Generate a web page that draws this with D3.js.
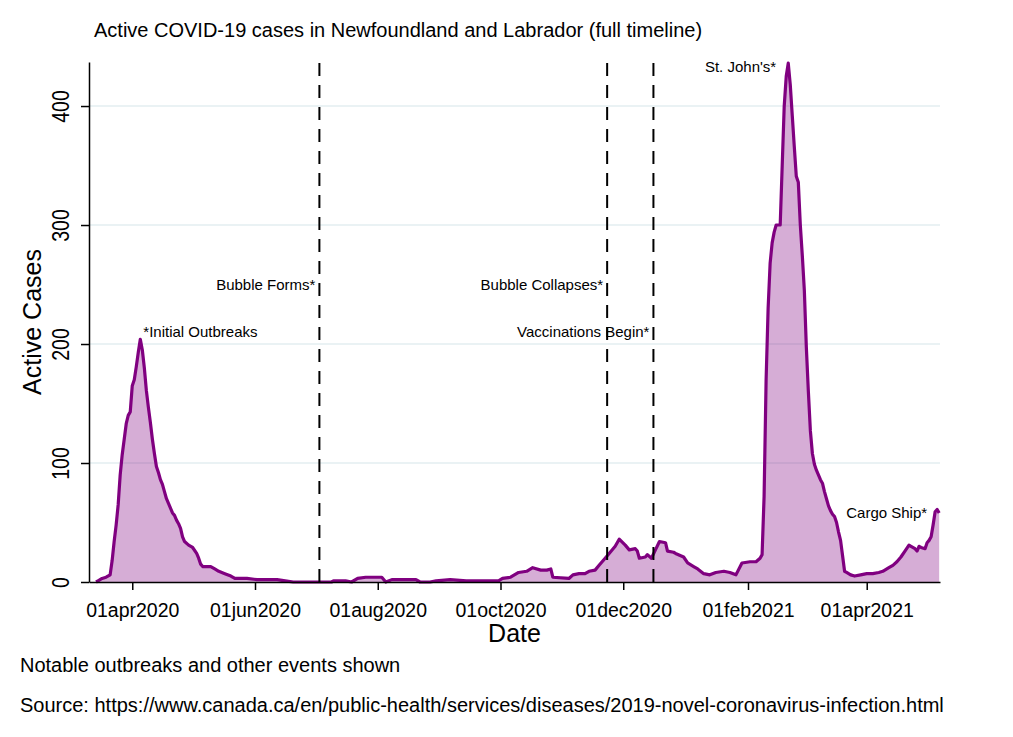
<!DOCTYPE html>
<html>
<head>
<meta charset="utf-8">
<script src="https://cdn.jsdelivr.net/npm/d3@7"></script>
<style>
  body { margin: 0; background: #fff; }
  text { font-family: "Liberation Sans", Arial, sans-serif; fill: #000; }
</style>
</head>
<body>
<svg id="chart" width="1013" height="737"></svg>
<script>
// ---------------- data ----------------
const dates = [
  "2020-03-14","2020-03-15","2020-03-17","2020-03-19","2020-03-21","2020-03-22","2020-03-23","2020-03-24",
  "2020-03-25","2020-03-26","2020-03-27","2020-03-28","2020-03-29","2020-03-30","2020-03-31","2020-04-01",
  "2020-04-02","2020-04-03","2020-04-04","2020-04-05","2020-04-06","2020-04-07","2020-04-08","2020-04-09",
  "2020-04-10","2020-04-11","2020-04-12","2020-04-13","2020-04-14","2020-04-15","2020-04-16","2020-04-17",
  "2020-04-18","2020-04-19","2020-04-20","2020-04-21","2020-04-22","2020-04-23","2020-04-24","2020-04-25",
  "2020-04-26","2020-04-27","2020-04-29","2020-05-01","2020-05-03","2020-05-04","2020-05-05","2020-05-06",
  "2020-05-10","2020-05-12","2020-05-14","2020-05-17","2020-05-20","2020-05-22","2020-05-28","2020-06-02",
  "2020-06-12","2020-06-16","2020-06-20","2020-07-09","2020-07-10","2020-07-16","2020-07-19","2020-07-22",
  "2020-07-26","2020-08-03","2020-08-05","2020-08-08","2020-08-20","2020-08-22","2020-08-27","2020-08-30",
  "2020-09-06","2020-09-14","2020-09-30","2020-10-02","2020-10-06","2020-10-10","2020-10-14","2020-10-17",
  "2020-10-21","2020-10-24","2020-10-26","2020-10-27","2020-11-04","2020-11-06","2020-11-09","2020-11-12",
  "2020-11-14","2020-11-17","2020-11-19","2020-11-22","2020-11-24","2020-11-27","2020-11-29","2020-12-02",
  "2020-12-04","2020-12-07","2020-12-08","2020-12-09","2020-12-12","2020-12-13","2020-12-15","2020-12-17",
  "2020-12-19","2020-12-22","2020-12-23","2020-12-26","2020-12-27","2020-12-31","2021-01-02","2021-01-05",
  "2021-01-07","2021-01-10","2021-01-13","2021-01-16","2021-01-20","2021-01-23","2021-01-26","2021-01-29",
  "2021-02-02","2021-02-05","2021-02-07","2021-02-08","2021-02-09","2021-02-10","2021-02-11","2021-02-12",
  "2021-02-13","2021-02-14","2021-02-15","2021-02-17","2021-02-18","2021-02-19","2021-02-20","2021-02-21",
  "2021-02-22","2021-02-23","2021-02-24","2021-02-25","2021-02-26","2021-02-27","2021-02-28","2021-03-01",
  "2021-03-02","2021-03-03","2021-03-04","2021-03-05","2021-03-06","2021-03-07","2021-03-08","2021-03-09",
  "2021-03-10","2021-03-11","2021-03-12","2021-03-13","2021-03-14","2021-03-15","2021-03-16","2021-03-17",
  "2021-03-18","2021-03-19","2021-03-20","2021-03-21","2021-03-22","2021-03-24","2021-03-26","2021-03-29",
  "2021-04-01","2021-04-04","2021-04-07","2021-04-09","2021-04-12","2021-04-14","2021-04-16","2021-04-18",
  "2021-04-20","2021-04-22","2021-04-23","2021-04-25","2021-04-26","2021-04-27","2021-04-28","2021-04-30",
  "2021-05-01","2021-05-02","2021-05-03","2021-05-04","2021-05-05","2021-05-06","2021-05-07"
];
const activeCases = [
  0,1,3,4,6,18,34,48,
  65,90,107,120,133,140,143,165,
  170,181,193,204,195,180,161,147,
  134,120,108,97,92,86,82,76,
  70,66,62,58,56,52,49,45,
  38,34,31,29,24,20,15,13,
  13,11,9,7,5,3,3,2,
  2,1,0,0,1,1,0,3,
  4,4,0,2,2,0,0,1,
  2,1,1,3,4,8,9,12,
  10,10,11,4,3,6,7,7,
  9,10,14,20,24,30,36,31,
  27,28,26,20,21,23,20,27,
  34,33,26,25,24,21,16,13,
  11,7,6,8,9,8,6,16,
  17,17,20,23,72,170,230,268,
  285,294,300,300,350,400,425,436,
  418,392,366,341,336,300,274,245,
  197,160,127,108,99,94,90,86,
  83,76,70,64,60,57,55,50,
  42,35,22,9,8,6,5,6,
  7,7,8,9,12,14,17,21,
  26,31,30,28,26,30,29,28,
  33,35,38,48,59,61,58
];

const yTicks = [0, 100, 200, 300, 400];
const xTickDates = ["2020-04-01","2020-06-01","2020-08-01","2020-10-01","2020-12-01","2021-02-01","2021-04-01"];
const xTickLabels = ["01apr2020","01jun2020","01aug2020","01oct2020","01dec2020","01feb2021","01apr2021"];

const eventDates = ["2020-07-03","2020-11-23","2020-12-16"];

const annoText   = ["*Initial Outbreaks","Bubble Forms*","Bubble Collapses*","Vaccinations Begin*","St. John's*","Cargo Ship*"];
const annoDate   = ["2020-04-05","2020-07-03","2020-11-23","2020-12-16","2021-02-17","2021-05-03"];
const annoValue  = [210, 250, 250, 210, 433, 58];
const annoAnchor = ["start","end","end","end","end","end"];

const titleText = "Active COVID-19 cases in Newfoundland and Labrador (full timeline)";
const yTitle = "Active Cases";
const xTitle = "Date";
const note1 = "Notable outbreaks and other events shown";
const note2 = "Source: https://www.canada.ca/en/public-health/services/diseases/2019-novel-coronavirus-infection.html";

// ---------------- drawing ----------------
const parse = s => { const [yy, mm, dd] = s.split("-").map(Number); return new Date(Date.UTC(yy, mm - 1, dd)); };
const series = dates.map((d, i) => ({ date: parse(d), value: activeCases[i] }));

const svg = d3.select("#chart");
const x = d3.scaleUtc()
  .domain([new Date(Date.UTC(2020, 2, 10, 12)), new Date(Date.UTC(2021, 4, 7, 10))])
  .range([89, 940]);
const y = d3.scaleLinear().domain([0, 437]).range([582, 62]);

// gridlines
svg.append("g").selectAll("line")
  .data(yTicks.filter(t => t > 0))
  .join("line")
  .attr("x1", x.range()[0]).attr("x2", x.range()[1])
  .attr("y1", d => y(d)).attr("y2", d => y(d))
  .attr("stroke", "#e3eef0").attr("stroke-width", 1.5);

// area + line
const area = d3.area().x(d => x(d.date)).y0(y(0)).y1(d => y(d.value));
const line = d3.line().x(d => x(d.date)).y(d => y(d.value));
svg.append("path").datum(series).attr("d", area)
  .attr("fill", "#800080").attr("fill-opacity", 0.32);
svg.append("path").datum(series).attr("d", line)
  .attr("fill", "none").attr("stroke", "#800080").attr("stroke-width", 3.2)
  .attr("stroke-linejoin", "round");

// event lines
svg.append("g").selectAll("line")
  .data(eventDates)
  .join("line")
  .attr("x1", d => x(parse(d))).attr("x2", d => x(parse(d)))
  .attr("y1", y(0)).attr("y2", y(437))
  .attr("stroke", "#000").attr("stroke-width", 2)
  .attr("stroke-dasharray", "13,9");

// annotations
svg.append("g").selectAll("text")
  .data(annoText)
  .join("text")
  .attr("x", (d, i) => x(parse(annoDate[i])) + (annoAnchor[i] === "start" ? 3 : -4))
  .attr("y", (d, i) => y(annoValue[i]))
  .attr("dy", "0.35em")
  .attr("text-anchor", (d, i) => annoAnchor[i])
  .style("font-size", "15px")
  .text(d => d);

// y axis
const yAxis = svg.append("g").attr("transform", `translate(${x.range()[0]},0)`)
  .call(d3.axisLeft(y).tickValues(yTicks).tickSize(8).tickSizeOuter(0).tickPadding(0));
yAxis.select(".domain").attr("stroke", "#000").attr("stroke-width", 1.5);
yAxis.selectAll(".tick line").attr("stroke", "#000").attr("stroke-width", 1.5);
yAxis.selectAll(".tick text")
  .attr("x", null).attr("dy", null)
  .attr("transform", "translate(-20,0) rotate(-90) scale(0.85,1)")
  .attr("text-anchor", "middle")
  .style("font-size", "23px").style("font-family", "'Liberation Sans', Arial, sans-serif").attr("fill", "#000");

// x axis
const xAxis = svg.append("g").attr("transform", `translate(0,${y(0)})`)
  .call(d3.axisBottom(x).tickValues(xTickDates.map(parse))
    .tickFormat((d, i) => xTickLabels[i]).tickSize(8).tickSizeOuter(0));
xAxis.select(".domain").attr("stroke", "#000").attr("stroke-width", 1.5);
xAxis.selectAll(".tick line").attr("stroke", "#000").attr("stroke-width", 1.5);
xAxis.selectAll(".tick text")
  .attr("y", 34.5).attr("dy", null)
  .style("font-size", "19.5px").style("font-family", "'Liberation Sans', Arial, sans-serif").attr("fill", "#000");

// titles
svg.append("text").attr("x", 94).attr("y", 36.5).style("font-size", "20px").text(titleText);
svg.append("text").attr("transform", "translate(41,322) rotate(-90)")
  .attr("text-anchor", "middle").style("font-size", "25px").text(yTitle);
svg.append("text").attr("x", (x.range()[0] + x.range()[1]) / 2).attr("y", 642)
  .attr("text-anchor", "middle").style("font-size", "25px").text(xTitle);
svg.append("text").attr("x", 20).attr("y", 672).style("font-size", "20px").text(note1);
svg.append("text").attr("x", 20).attr("y", 712).style("font-size", "20px").text(note2);
</script>
</body>
</html>
